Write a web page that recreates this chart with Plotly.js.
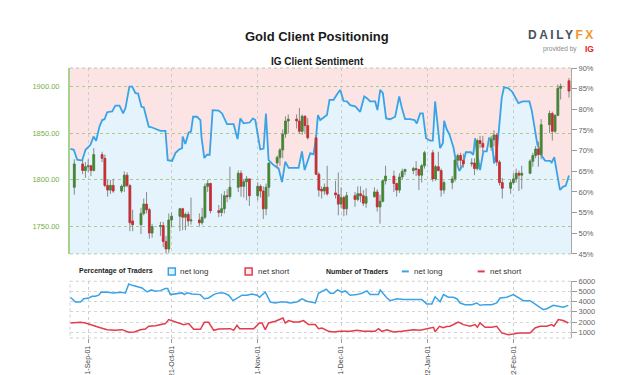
<!DOCTYPE html>
<html><head><meta charset="utf-8">
<script src="https://cdn.plot.ly/plotly-3.0.1.min.js"></script>
<style>html,body{margin:0;padding:0;background:#fff}#chart{width:623px;height:375px}</style>
</head><body><div id="chart"></div>
<script>
// ---- Gold daily candles (XAU/USD) ----
const candleDates = ["2021-08-27","2021-08-30","2021-08-31","2021-09-01","2021-09-02","2021-09-03","2021-09-06","2021-09-07","2021-09-08","2021-09-09","2021-09-10","2021-09-13","2021-09-14","2021-09-15","2021-09-16","2021-09-17","2021-09-20","2021-09-21","2021-09-22","2021-09-23","2021-09-24","2021-09-27","2021-09-28","2021-09-29","2021-09-30","2021-10-01","2021-10-04","2021-10-05","2021-10-06","2021-10-07","2021-10-08","2021-10-11","2021-10-12","2021-10-13","2021-10-14","2021-10-15","2021-10-18","2021-10-19","2021-10-20","2021-10-21","2021-10-22","2021-10-25","2021-10-26","2021-10-27","2021-10-28","2021-10-29","2021-11-01","2021-11-02","2021-11-03","2021-11-04","2021-11-05","2021-11-08","2021-11-09","2021-11-10","2021-11-11","2021-11-12","2021-11-15","2021-11-16","2021-11-17","2021-11-18","2021-11-19","2021-11-22","2021-11-23","2021-11-24","2021-11-25","2021-11-26","2021-11-29","2021-11-30","2021-12-01","2021-12-02","2021-12-03","2021-12-06","2021-12-07","2021-12-08","2021-12-09","2021-12-10","2021-12-13","2021-12-14","2021-12-15","2021-12-16","2021-12-17","2021-12-20","2021-12-21","2021-12-22","2021-12-23","2021-12-24","2021-12-27","2021-12-28","2021-12-29","2021-12-30","2021-12-31","2022-01-03","2022-01-04","2022-01-05","2022-01-06","2022-01-07","2022-01-10","2022-01-11","2022-01-12","2022-01-13","2022-01-14","2022-01-17","2022-01-18","2022-01-19","2022-01-20","2022-01-21","2022-01-24","2022-01-25","2022-01-26","2022-01-27","2022-01-28","2022-01-31","2022-02-01","2022-02-02","2022-02-03","2022-02-04","2022-02-07","2022-02-08","2022-02-09","2022-02-10","2022-02-11","2022-02-14","2022-02-15","2022-02-16","2022-02-17","2022-02-18","2022-02-21"];
const opens  = [1792,1817,1810,1814,1815,1810,1827,1823,1794,1789,1794,1788,1793,1805,1794,1756,1752,1764,1774,1768,1743,1750,1751,1734,1726,1757,1761,1769,1760,1763,1756,1757,1754,1760,1793,1796,1767,1765,1769,1783,1782,1792,1807,1793,1798,1801,1783,1793,1788,1769,1792,1818,1824,1832,1849,1863,1865,1863,1852,1868,1858,1845,1806,1790,1788,1792,1786,1784,1774,1781,1769,1783,1779,1785,1783,1775,1782,1787,1771,1777,1799,1804,1796,1789,1803,1809,1810,1812,1811,1805,1815,1829,1801,1814,1810,1789,1797,1801,1821,1826,1821,1817,1818,1812,1842,1839,1835,1843,1848,1819,1797,1791,1797,1801,1807,1805,1807,1820,1826,1833,1827,1859,1871,1852,1869,1898,1906];
const highs  = [1822,1822,1819,1822,1816,1834,1830,1827,1800,1800,1801,1795,1809,1808,1795,1768,1770,1780,1787,1770,1753,1755,1755,1740,1764,1765,1770,1770,1765,1766,1781,1764,1770,1796,1800,1797,1773,1785,1788,1790,1814,1810,1810,1801,1804,1801,1797,1795,1793,1796,1818,1826,1834,1854,1868,1870,1870,1877,1870,1869,1866,1848,1808,1793,1796,1815,1799,1808,1792,1783,1787,1787,1793,1793,1789,1791,1792,1790,1784,1800,1815,1810,1797,1807,1812,1812,1814,1820,1812,1817,1831,1832,1816,1830,1812,1799,1804,1823,1828,1829,1828,1823,1823,1844,1847,1847,1847,1853,1850,1821,1802,1800,1807,1812,1810,1815,1822,1829,1836,1841,1865,1874,1873,1870,1902,1903,1909];
const lows   = [1784,1806,1802,1808,1804,1809,1819,1792,1782,1785,1786,1786,1787,1792,1745,1745,1742,1762,1764,1737,1738,1740,1728,1721,1722,1749,1745,1746,1746,1750,1752,1750,1752,1758,1787,1764,1760,1761,1764,1776,1779,1787,1782,1781,1778,1772,1778,1781,1758,1762,1782,1812,1815,1823,1845,1850,1855,1849,1848,1850,1843,1805,1782,1780,1784,1783,1780,1762,1770,1761,1762,1771,1777,1776,1772,1770,1781,1766,1753,1776,1795,1787,1782,1786,1800,1805,1806,1804,1789,1797,1812,1798,1799,1809,1782,1785,1790,1798,1816,1812,1813,1814,1805,1810,1834,1830,1831,1836,1815,1794,1780,1785,1795,1797,1788,1790,1806,1814,1823,1814,1822,1850,1842,1850,1868,1886,1888];
const closes = [1817,1810,1814,1815,1810,1827,1823,1794,1789,1794,1788,1793,1805,1794,1754,1752,1764,1774,1768,1743,1750,1751,1734,1726,1757,1761,1769,1760,1763,1756,1757,1754,1760,1793,1796,1767,1765,1769,1783,1782,1792,1807,1793,1798,1801,1783,1793,1788,1769,1792,1818,1824,1832,1849,1863,1865,1863,1852,1868,1858,1845,1806,1789,1788,1792,1785,1784,1774,1781,1769,1783,1779,1785,1783,1775,1782,1787,1771,1777,1799,1804,1796,1789,1803,1809,1811,1812,1811,1805,1815,1829,1801,1814,1810,1789,1797,1801,1821,1826,1821,1817,1818,1812,1842,1839,1835,1843,1848,1819,1797,1791,1797,1801,1807,1805,1807,1820,1826,1833,1827,1859,1871,1852,1869,1898,1900,1895];

// ---- IG client sentiment: % of traders net long ----
const sentimentDates = ["2021-08-25 15:00","2021-08-26 20:00","2021-08-28 01:00","2021-08-29 20:00","2021-08-31 01:00","2021-09-01 20:00","2021-09-02 22:00","2021-09-03 21:00","2021-09-05 01:00","2021-09-06 01:00","2021-09-06 21:00","2021-09-07 20:00","2021-09-09 15:00","2021-09-10 19:00","2021-09-12 06:00","2021-09-13 14:00","2021-09-14 10:00","2021-09-15 20:00","2021-09-16 20:00","2021-09-18 00:00","2021-09-18 23:00","2021-09-20 04:00","2021-09-21 00:00","2021-09-22 19:00","2021-09-24 00:00","2021-09-25 19:00","2021-09-27 00:00","2021-09-28 19:00","2021-09-29 15:00","2021-10-01 05:00","2021-10-02 09:00","2021-10-03 14:00","2021-10-04 19:00","2021-10-05 00:00","2021-10-05 23:00","2021-10-07 04:00","2021-10-08 00:00","2021-10-08 18:00","2021-10-10 04:00","2021-10-11 09:00","2021-10-11 18:00","2021-10-12 19:00","2021-10-13 18:00","2021-10-14 17:00","2021-10-15 19:00","2021-10-17 23:00","2021-10-19 04:00","2021-10-20 23:00","2021-10-23 08:00","2021-10-24 18:00","2021-10-25 18:00","2021-10-26 22:00","2021-10-29 02:00","2021-10-30 07:00","2021-10-31 03:00","2021-11-01 22:00","2021-11-03 03:00","2021-11-03 23:00","2021-11-04 22:00","2021-11-06 17:00","2021-11-08 12:00","2021-11-09 18:00","2021-11-10 22:00","2021-11-12 03:00","2021-11-15 17:00","2021-11-16 22:00","2021-11-17 21:00","2021-11-19 22:00","2021-11-21 02:00","2021-11-22 01:00","2021-11-22 16:00","2021-11-23 12:00","2021-11-24 17:00","2021-11-25 22:00","2021-11-26 20:00","2021-11-28 07:00","2021-11-29 12:00","2021-11-30 17:00","2021-12-01 21:00","2021-12-03 02:00","2021-12-04 07:00","2021-12-06 02:00","2021-12-07 21:00","2021-12-09 08:00","2021-12-10 07:00","2021-12-11 11:00","2021-12-13 06:00","2021-12-14 02:00","2021-12-15 02:00","2021-12-16 01:00","2021-12-17 05:00","2021-12-18 16:00","2021-12-20 11:00","2021-12-21 22:00","2021-12-22 21:00","2021-12-24 01:00","2021-12-25 20:00","2021-12-27 10:00","2021-12-28 06:00","2021-12-29 11:00","2021-12-30 10:00","2021-12-31 14:00","2022-01-02 01:00","2022-01-03 00:00","2022-01-03 20:00","2022-01-04 16:00","2022-01-05 15:00","2022-01-06 15:00","2022-01-07 02:00","2022-01-08 01:00","2022-01-09 00:00","2022-01-10 10:00","2022-01-11 09:00","2022-01-12 14:00","2022-01-13 19:00","2022-01-14 21:00","2022-01-16 16:00","2022-01-17 14:00","2022-01-18 05:00","2022-01-18 20:00","2022-01-20 00:00","2022-01-21 05:00","2022-01-22 10:00","2022-01-23 06:00","2022-01-24 05:00","2022-01-25 01:00","2022-01-26 00:00","2022-01-26 20:00","2022-01-27 19:00","2022-01-28 15:00","2022-01-30 05:00","2022-01-31 15:00","2022-02-01 14:00","2022-02-02 19:00","2022-02-04 09:00","2022-02-06 18:00","2022-02-07 14:00","2022-02-08 19:00","2022-02-09 15:00","2022-02-10 08:00","2022-02-10 23:00","2022-02-12 09:00","2022-02-14 04:00","2022-02-14 19:00","2022-02-15 17:00","2022-02-16 14:00","2022-02-17 18:00","2022-02-18 23:00","2022-02-19 20:00","2022-02-21 00:00"];
const netLongPct = [70.4,70.2,67.8,67.6,70.2,71.4,73.4,72.4,75.8,77.4,77.6,79.3,79.5,80.9,80.9,79.0,80.3,85.5,85.5,83.9,83.8,80.6,80.5,75.8,75.6,75.2,74.8,74.8,67.7,67.5,69.4,70.2,70.6,73.4,71.6,74.4,74.6,78.2,78.2,77.4,73.4,68.2,69.0,69.0,79.8,79.7,79.0,76.4,76.4,72.8,77.8,76.6,76.8,77.8,77.4,70.3,70.5,79.0,67.7,66.5,65.7,62.4,67.3,65.8,65.8,69.8,65.3,69.4,69.1,73.5,78.6,77.4,78.0,78.6,82.3,82.3,83.6,84.7,82.0,81.9,81.0,80.7,79.4,83.1,82.7,81.9,81.9,79.8,84.7,83.9,77.8,77.6,78.2,83.1,80.3,77.6,77.6,77.4,76.6,79.0,79.0,73.0,72.4,72.4,81.9,75.8,70.6,71.8,77.2,75.1,73.9,70.8,67.3,65.1,66.5,69.6,69.6,69.0,73.0,69.8,65.3,69.8,69.8,73.0,72.8,66.9,69.8,75.4,82.7,85.3,85.1,84.2,83.1,81.5,81.9,81.9,79.8,75.0,71.5,70.4,69.0,67.6,67.5,67.1,68.4,65.0,60.5,61.3,61.5,64.0];

// ---- Number of traders ----
const longCountDates = ["2021-08-25 15:00","2021-08-27 10:00","2021-08-29 05:00","2021-08-30 10:00","2021-09-01 05:00","2021-09-02 10:00","2021-09-03 15:00","2021-09-04 19:00","2021-09-05 16:00","2021-09-07 05:00","2021-09-10 05:00","2021-09-12 15:00","2021-09-14 10:00","2021-09-15 14:00","2021-09-16 20:00","2021-09-18 15:00","2021-09-20 10:00","2021-09-22 05:00","2021-09-23 16:00","2021-09-25 05:00","2021-09-27 00:00","2021-09-28 19:00","2021-09-29 15:00","2021-09-30 14:00","2021-10-03 00:00","2021-10-04 19:00","2021-10-05 15:00","2021-10-06 14:00","2021-10-08 09:00","2021-10-11 09:00","2021-10-12 19:00","2021-10-14 08:00","2021-10-16 04:00","2021-10-17 23:00","2021-10-19 18:00","2021-10-21 13:00","2021-10-23 03:00","2021-10-24 13:00","2021-10-26 09:00","2021-10-28 04:00","2021-10-29 23:00","2021-10-31 18:00","2021-11-01 16:00","2021-11-03 17:00","2021-11-05 13:00","2021-11-07 08:00","2021-11-09 03:00","2021-11-10 22:00","2021-11-12 17:00","2021-11-15 03:00","2021-11-16 22:00","2021-11-18 17:00","2021-11-21 17:00","2021-11-22 21:00","2021-11-24 03:00","2021-11-25 16:00","2021-11-27 02:00","2021-11-28 07:00","2021-11-29 17:00","2021-12-01 07:00","2021-12-02 12:00","2021-12-04 07:00","2021-12-06 17:00","2021-12-08 12:00","2021-12-10 07:00","2021-12-11 11:00","2021-12-14 11:00","2021-12-15 02:00","2021-12-17 12:00","2021-12-18 16:00","2021-12-21 02:00","2021-12-23 11:00","2021-12-27 01:00","2021-12-30 01:00","2021-12-31 20:00","2022-01-02 16:00","2022-01-03 20:00","2022-01-05 15:00","2022-01-06 20:00","2022-01-08 15:00","2022-01-10 10:00","2022-01-11 15:00","2022-01-12 20:00","2022-01-14 15:00","2022-01-17 01:00","2022-01-18 20:00","2022-01-20 00:00","2022-01-21 19:00","2022-01-24 05:00","2022-01-26 00:00","2022-01-27 05:00","2022-01-29 15:00","2022-02-01 00:00","2022-02-02 19:00","2022-02-04 14:00","2022-02-07 00:00","2022-02-08 19:00","2022-02-10 14:00","2022-02-11 18:00","2022-02-13 00:00","2022-02-15 09:00","2022-02-17 04:00","2022-02-18 23:00","2022-02-20 18:00"];
const longCounts = [4430,3970,3970,4290,4360,4530,4530,4630,4920,4950,4860,4920,4860,5730,5600,5440,5340,4950,5150,5020,5080,5280,5280,4690,4760,4860,4690,4860,4760,4690,4290,4360,4690,4860,4860,4630,4100,4360,4630,4630,4760,4630,4430,4950,3970,3870,3970,3970,3870,3970,4270,4040,3870,4820,4990,5220,4820,4820,5150,4920,5050,4630,4690,4820,5050,4690,4690,5150,4360,4100,4290,4200,4200,4200,3780,3780,4480,4000,4690,4430,4430,4290,3870,3710,3710,3870,3640,3710,3710,3870,4360,4430,4690,4430,4100,4100,3780,3450,3220,3310,3640,3540,3450,3640];
const shortCountDates = ["2021-08-25 15:00","2021-08-29 05:00","2021-08-31 01:00","2021-09-03 00:00","2021-09-04 19:00","2021-09-07 20:00","2021-09-10 19:00","2021-09-13 05:00","2021-09-14 01:00","2021-09-15 14:00","2021-09-17 15:00","2021-09-19 19:00","2021-09-21 14:00","2021-09-22 19:00","2021-09-25 05:00","2021-09-27 14:00","2021-09-28 19:00","2021-09-29 23:00","2021-10-01 18:00","2021-10-03 14:00","2021-10-05 09:00","2021-10-07 04:00","2021-10-08 23:00","2021-10-11 09:00","2021-10-12 19:00","2021-10-14 08:00","2021-10-16 04:00","2021-10-17 23:00","2021-10-19 18:00","2021-10-22 04:00","2021-10-23 08:00","2021-10-24 13:00","2021-10-25 12:00","2021-10-27 13:00","2021-10-30 13:00","2021-11-01 16:00","2021-11-02 13:00","2021-11-03 17:00","2021-11-04 22:00","2021-11-07 08:00","2021-11-09 03:00","2021-11-10 02:00","2021-11-10 22:00","2021-11-12 02:00","2021-11-13 22:00","2021-11-15 17:00","2021-11-17 12:00","2021-11-19 07:00","2021-11-21 17:00","2021-11-22 21:00","2021-11-24 03:00","2021-11-26 12:00","2021-11-28 07:00","2021-11-30 17:00","2021-12-04 07:00","2021-12-06 17:00","2021-12-09 02:00","2021-12-13 06:00","2021-12-14 11:00","2021-12-15 16:00","2021-12-17 12:00","2021-12-19 20:00","2021-12-22 21:00","2021-12-24 16:00","2021-12-27 01:00","2021-12-29 11:00","2022-01-01 10:00","2022-01-03 06:00","2022-01-03 20:00","2022-01-05 10:00","2022-01-06 18:00","2022-01-08 00:00","2022-01-09 05:00","2022-01-12 05:00","2022-01-14 00:00","2022-01-16 10:00","2022-01-18 05:00","2022-01-19 01:00","2022-01-20 00:00","2022-01-21 19:00","2022-01-24 05:00","2022-01-26 00:00","2022-01-27 19:00","2022-01-30 05:00","2022-02-01 00:00","2022-02-02 19:00","2022-02-04 14:00","2022-02-07 00:00","2022-02-08 19:00","2022-02-10 14:00","2022-02-13 00:00","2022-02-14 19:00","2022-02-15 14:00","2022-02-17 04:00","2022-02-18 23:00","2022-02-20 18:00"];
const shortCounts = [1910,1980,1910,1690,1490,1255,1190,1255,1160,1000,1030,1255,1320,1590,1650,1750,1850,2245,2080,1910,1750,1850,1294,1294,1977,1977,1190,1320,1353,1353,1190,1686,1353,1353,1353,1912,1912,1255,1912,2080,2245,2400,1912,2150,2010,2010,2150,1751,1751,1353,1420,1092,1032,1092,1092,1190,1092,1092,1353,1092,1255,1032,1092,1157,1255,1190,1420,1490,1050,1588,1440,1560,1588,2010,1751,1588,1751,1490,1912,1490,1490,1588,934,765,830,934,934,934,1420,1588,1588,1751,1588,2245,2150,1912];

// ---- axis ticks / reference levels ----
const monthTicks = ["2021-09-01","2021-10-01","2021-11-01","2021-12-01","2022-01-01","2022-02-01"];
const monthTickText = ["2021-Sep-01","2021-Oct-01","2021-Nov-01","2021-Dec-01","2022-Jan-01","2022-Feb-01"];
const priceTicks = [1750,1800,1850,1900];
const pctTicks = [45,50,55,60,65,70,75,80,85,90];
const pctTickText = ["45%","50%","55%","60%","65%","70%","75%","80%","85%","90%"];
const countTicks = [1000,2000,3000,4000,5000,6000];
const dashDotLevels = [50,66];
const dottedPctLevels = [70,80];

const X_RANGE = ["2021-08-25 11:00","2022-02-21 17:30"];
const PCT_RANGE = [45,90];
const PRICE_RANGE = [1720.7,1919.7];
const COUNT_RANGE = [440,6000];

const SANS = "Liberation Sans, Arial, sans-serif";
const GREEN = '#3e8a2c', RED = '#d5262e', WICK = '#8a8a8a';
const BLUE_LINE = '#38a3e6', RED_LINE = '#e23b4c';

// fill polygons following the sentiment line (pink above, blue below)
function fillPath(edge){
  const f = d => d.replace(' ', '_');
  const n = netLongPct.length;
  let p = 'M' + f(X_RANGE[0]) + ',' + edge + ' L' + f(X_RANGE[0]) + ',' + netLongPct[0];
  for (let i = 0; i < n; i++) p += ' L' + f(sentimentDates[i]) + ',' + netLongPct[i];
  p += ' L' + f(X_RANGE[1]) + ',' + netLongPct[n-1] + ' L' + f(X_RANGE[1]) + ',' + edge + ' Z';
  return p;
}

const bodyHigh = opens.map((o,i) => Math.max(o, closes[i]));
const bodyLow  = opens.map((o,i) => Math.min(o, closes[i]));

const traces = [
  { type:'scatter', mode:'lines', x:sentimentDates, y:netLongPct, xaxis:'x', yaxis:'y',
    line:{color:BLUE_LINE, width:1.8}, hoverinfo:'skip', showlegend:false },
  { type:'candlestick', x:candleDates, open:opens, high:highs, low:lows, close:closes,
    xaxis:'x', yaxis:'y2', whiskerwidth:0, hoverinfo:'skip', showlegend:false,
    increasing:{line:{color:WICK, width:1}, fillcolor:WICK},
    decreasing:{line:{color:WICK, width:1}, fillcolor:WICK} },
  { type:'candlestick', x:candleDates, open:opens, high:bodyHigh, low:bodyLow, close:closes,
    xaxis:'x', yaxis:'y2', whiskerwidth:0, hoverinfo:'skip', showlegend:false,
    increasing:{line:{color:GREEN, width:0.5}, fillcolor:GREEN},
    decreasing:{line:{color:RED, width:0.5}, fillcolor:RED} },
  { type:'scatter', mode:'lines', x:longCountDates, y:longCounts, xaxis:'x', yaxis:'y3',
    line:{color:BLUE_LINE, width:1.5}, hoverinfo:'skip', showlegend:false },
  { type:'scatter', mode:'lines', x:shortCountDates, y:shortCounts, xaxis:'x', yaxis:'y3',
    line:{color:RED_LINE, width:1.5}, hoverinfo:'skip', showlegend:false }
];

const shapes = [
  { type:'path', xref:'x', yref:'y', path:fillPath(PCT_RANGE[1]), fillcolor:'#fce3e4', line:{width:0}, layer:'below' },
  { type:'path', xref:'x', yref:'y', path:fillPath(PCT_RANGE[0]), fillcolor:'#e5f3fc', line:{width:0}, layer:'below' }
];
dashDotLevels.forEach(v => shapes.push({ type:'line', xref:'x domain', yref:'y', x0:0, x1:1, y0:v, y1:v,
  line:{color:'#8c8c8c', width:1, dash:'dashdot'}, layer:'below' }));
dottedPctLevels.forEach(v => shapes.push({ type:'line', xref:'x domain', yref:'y', x0:0, x1:1, y0:v, y1:v,
  line:{color:'#c4c4c4', width:1, dash:'dot'}, layer:'below' }));
// panel borders
shapes.push({ type:'line', xref:'x domain', yref:'y domain', x0:0, x1:1, y0:1, y1:1, line:{color:'#b9c7a6', width:1, dash:'dot'} });
shapes.push({ type:'line', xref:'x domain', yref:'y domain', x0:0, x1:1, y0:0, y1:0, line:{color:'#b9c7a6', width:1, dash:'dot'} });
shapes.push({ type:'rect', xref:'x domain', yref:'y3 domain', x0:0, x1:1, y0:0, y1:1, line:{color:'#cfcfcf', width:1, dash:'dot'} });
// legend markers
const LY0 = 0.2336, LY1 = 0.2596, LYM = 0.2466;
shapes.push({ type:'rect', xref:'paper', yref:'paper', x0:0.1962, x1:0.2102, y0:LY0, y1:LY1, line:{color:BLUE_LINE, width:1.5}, fillcolor:'#eaf6fd' });
shapes.push({ type:'rect', xref:'paper', yref:'paper', x0:0.3496, x1:0.3635, y0:LY0, y1:LY1, line:{color:RED_LINE, width:1.5}, fillcolor:'#fdecee' });
shapes.push({ type:'line', xref:'paper', yref:'paper', x0:0.6624, x1:0.6763, y0:LYM, y1:LYM, line:{color:BLUE_LINE, width:2} });
shapes.push({ type:'line', xref:'paper', yref:'paper', x0:0.8137, x1:0.8277, y0:LYM, y1:LYM, line:{color:RED_LINE, width:2} });

const ann = (text, x, y, opts) => Object.assign({ text, x, y, xref:'paper', yref:'paper', showarrow:false,
  xanchor:'left', yanchor:'middle', font:{family:SANS, size:8, color:'#333'} }, opts || {});

const annotations = [
  ann('<b>Gold Client Positioning</b>', 0.494, 1.116, {xanchor:'center', font:{family:SANS, size:13, color:'#1a1a1a'}}),
  ann('<b>IG Client Sentiment</b>', 0.494, 1.0245, {xanchor:'center', font:{family:SANS, size:10, color:'#1a1a1a'}}),
  ann('<b>Percentage of Traders</b>', 0.0143, LYM, {font:{family:SANS, size:7, color:'#222'}}),
  ann('net long', 0.2161, LYM),
  ann('net short', 0.3715, LYM),
  ann('<b>Number of Traders</b>', 0.507, LYM, {font:{family:SANS, size:7, color:'#222'}}),
  ann('net long', 0.6823, LYM),
  ann('net short', 0.8337, LYM),
  ann('<b><span style="color:#46525f;letter-spacing:2.5px">DAILY</span><span style="color:#f2962b;letter-spacing:2.5px">FX</span></b>', 0.982, 1.1209,
      {xanchor:'center', font:{family:SANS, size:12, color:'#46525f'}}),
  ann('provided by', 1.0169, 1.0716, {xanchor:'right', font:{family:SANS, size:6.5, color:'#8a8a8a'}}),
  ann('<b>IG</b>', 1.0249, 1.0716, {font:{family:SANS, size:8.5, color:'#e3241f'}})
];

const layout = {
  width:623, height:375,
  margin:{l:69.5, r:51.5, t:68.3, b:37, pad:0},
  paper_bgcolor:'#ffffff', plot_bgcolor:'#ffffff',
  showlegend:false, boxgap:0.1, boxmode:'overlay',
  xaxis:{ type:'date', range:X_RANGE, anchor:'y3', tickvals:monthTicks, ticktext:monthTickText,
    rangeslider:{visible:false},
    tickangle:-90, ticks:'outside', ticklen:4, tickcolor:'#9a9a9a', showgrid:true, gridcolor:'#cdcdcd',
    griddash:'dot', zeroline:false, showline:false, automargin:false,
    tickfont:{family:SANS, size:7, color:'#444'} },
  yaxis:{ domain:[0.3115,1], anchor:'x', side:'right', range:PCT_RANGE, tickvals:pctTicks, ticktext:pctTickText,
    ticks:'outside', ticklen:5, tickcolor:'#9a9a9a', showline:true, linecolor:'#a8a8a8', linewidth:1,
    showgrid:false, zeroline:false, automargin:false, tickfont:{family:SANS, size:7.5, color:'#666'} },
  yaxis2:{ overlaying:'y', side:'left', anchor:'x', range:PRICE_RANGE, tickvals:priceTicks, tickformat:'.2f',
    showgrid:true, gridcolor:'#a9cb86', griddash:'dot', showline:true, linecolor:'#a9d18e', linewidth:2,
    ticks:'outside', ticklen:7, tickcolor:'rgba(0,0,0,0)', zeroline:false, automargin:false,
    tickfont:{family:SANS, size:7.5, color:'#79ad4a'} },
  yaxis3:{ domain:[0,0.2102], anchor:'x', side:'right', range:COUNT_RANGE, tickvals:countTicks,
    ticks:'outside', ticklen:5, tickcolor:'#9a9a9a', showline:true, linecolor:'#a8a8a8', linewidth:1,
    showgrid:true, gridcolor:'#d6d6d6', griddash:'dot', zeroline:false, automargin:false,
    tickfont:{family:SANS, size:7.5, color:'#666'} },
  shapes, annotations
};

Plotly.newPlot('chart', traces, layout, {staticPlot:true, displayModeBar:false});
</script>
</body></html>
